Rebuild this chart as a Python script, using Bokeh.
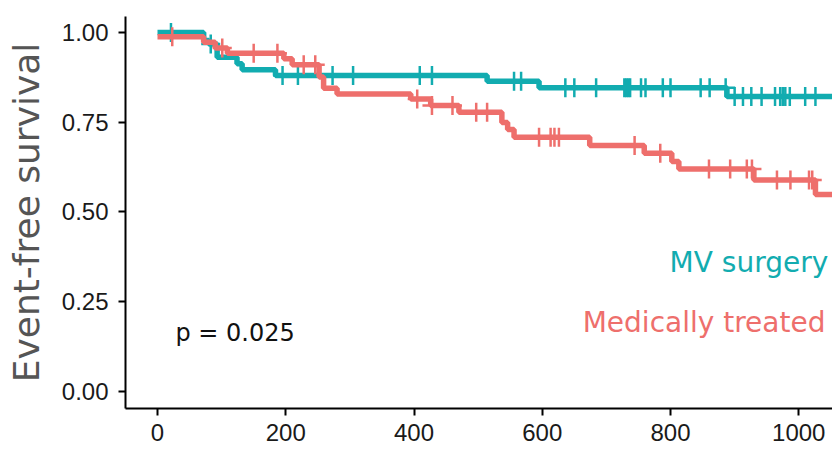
import numpy as np
from bokeh.plotting import figure
from bokeh.models import Label, FixedTicker, NumeralTickFormatter
from bokeh.embed import file_html
from bokeh.resources import INLINE

# ---- data ----
followup_end = 1060

mv_times = [0, 72, 80, 93, 124, 132, 184, 514, 595, 888]
mv_surv = [1.0, 0.978, 0.968, 0.931, 0.913, 0.896, 0.880, 0.864, 0.846, 0.822]
mv_censor = [21, 83, 195, 219, 273, 305, 409, 428, 556, 567, 636, 650, 684,
             728, 731, 734, 737, 754, 761, 788, 800, 847, 861, 886, 900, 913,
             926, 942, 963, 971, 975, 979, 986, 1010, 1026]

med_times = [0, 72, 90, 109, 197, 210, 252, 259, 280, 395, 426, 470, 537, 546,
             556, 674, 759, 802, 813, 930, 1026]
med_surv = [0.988, 0.973, 0.957, 0.942, 0.927, 0.910, 0.876, 0.845, 0.829,
            0.815, 0.797, 0.778, 0.749, 0.730, 0.708, 0.685, 0.664, 0.641,
            0.620, 0.589, 0.549]
med_censor = [23, 101, 150, 187, 228, 246, 405, 428, 460, 497, 514, 595, 613,
              619, 626, 744, 784, 860, 893, 919, 927, 966, 987, 1016, 1021]

x_ticks = [0, 200, 400, 600, 800, 1000]
y_ticks = [0.0, 0.25, 0.5, 0.75, 1.0]

group_names = ["MV surgery", "Medically treated"]
p_value_text = "p = 0.025"

TEAL = "#12ACB0"
RED = "#EE6F6C"
TICK_FONT = "Liberation Sans"


def step_xy(times, surv):
    xs = list(times) + [followup_end]
    ys = list(surv) + [surv[-1]]
    return xs, ys


def censor_y(times, surv, cens):
    t = np.asarray(times)
    s = np.asarray(surv)
    idx = np.searchsorted(t, np.asarray(cens), side="right") - 1
    return s[idx]


p = figure(width=832, height=451, x_range=(-49.9, 1052.6), y_range=(-0.0474, 1.0446),
           output_backend="svg", toolbar_location=None,
           min_border_left=125, min_border_right=0, min_border_top=16, min_border_bottom=43)

p.outline_line_color = None
p.xgrid.visible = False
p.ygrid.visible = False
p.background_fill_color = "white"

for times, surv, cens, col in [(mv_times, mv_surv, mv_censor, TEAL),
                               (med_times, med_surv, med_censor, RED)]:
    xs, ys = step_xy(times, surv)
    p.step(xs, ys, mode="after", line_color=col, line_width=5.5)
    p.scatter(cens, censor_y(times, surv, cens), marker="cross", size=19,
              line_color=col, line_width=2.5)

# axes
for ax in (p.xaxis[0], p.yaxis[0]):
    ax.axis_line_color = "black"
    ax.axis_line_width = 2
    ax.major_tick_line_color = "black"
    ax.major_tick_line_width = 2
    ax.major_tick_out = 7
    ax.major_tick_in = 0
    ax.minor_tick_line_color = None
    ax.major_label_text_font = TICK_FONT
    ax.major_label_text_font_size = "24px"
    ax.major_label_text_color = "#1A1A1A"

p.xaxis.ticker = FixedTicker(ticks=x_ticks)
p.yaxis.ticker = FixedTicker(ticks=y_ticks)
p.yaxis.formatter = NumeralTickFormatter(format="0.00")
p.xaxis.major_label_standoff = 8
p.yaxis.major_label_standoff = 10

p.yaxis.axis_label = "Event-free survival"
p.yaxis.axis_label_text_font = "DejaVu Sans"
p.yaxis.axis_label_text_font_size = "36px"
p.yaxis.axis_label_text_font_style = "normal"
p.yaxis.axis_label_text_color = "#555555"
p.yaxis.axis_label_standoff = 12

# annotations
p.add_layout(Label(x=1046, y=0.359, text=group_names[0], text_align="right",
                   text_baseline="alphabetic", text_font="DejaVu Sans",
                   text_font_size="28px", text_color=TEAL))
p.add_layout(Label(x=1041.6, y=0.193, text=group_names[1], text_align="right",
                   text_baseline="alphabetic", text_font="DejaVu Sans",
                   text_font_size="28px", text_color=RED))
p.add_layout(Label(x=28, y=0.1635, text=p_value_text, text_align="left",
                   text_baseline="alphabetic", text_font="DejaVu Sans",
                   text_font_size="24px", text_color="#111111"))

open("out.html", "w").write(file_html(p, INLINE))
